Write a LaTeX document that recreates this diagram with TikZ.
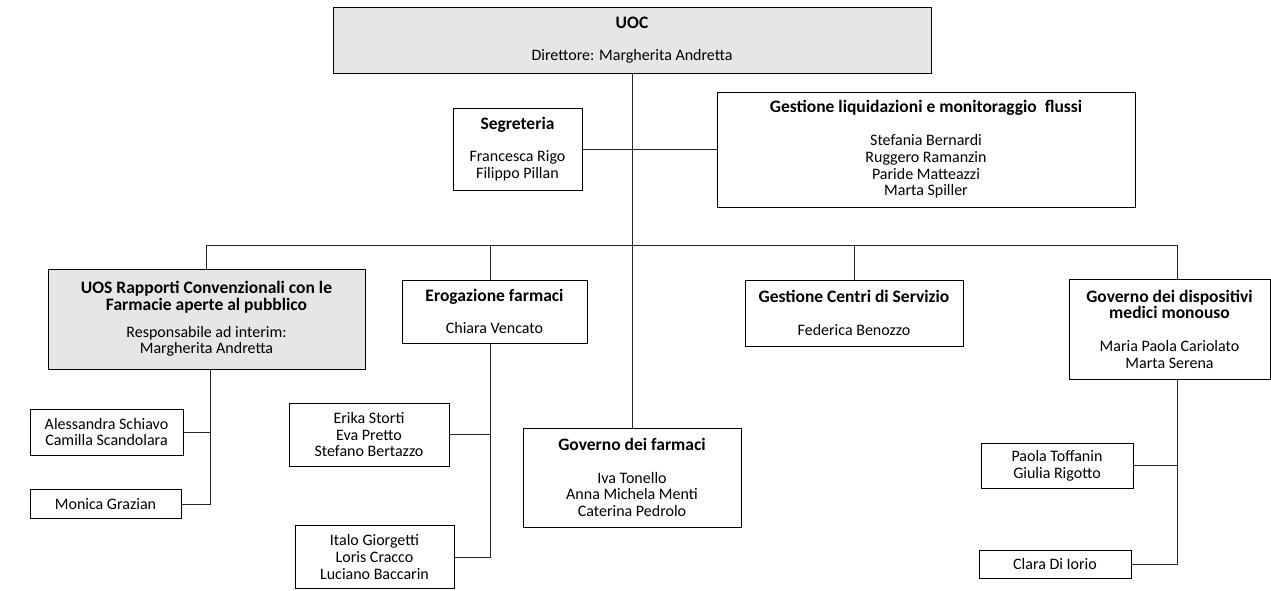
\documentclass[tikz,border=0pt]{standalone}
\usepackage{fontspec}
\setmainfont{Carlito}
\usepackage{tikz}
\usetikzlibrary{positioning,calc}
\definecolor{boxgray}{HTML}{E7E6E6}
\newcommand{\unittitle}[1]{{\fontsize{17.5}{17}\selectfont\bfseries #1}}
\tikzset{
  unit/.style    = { draw=black, line width=1pt, align=center, inner sep=0pt,
                     font=\fontsize{16}{16.7}\selectfont },
  head/.style    = { unit, fill=boxgray },
  link/.style    = { draw=black!85, line width=0.9pt },
}
\begin{document}
\begin{tikzpicture}[x=1pt, y=-1pt]
  \useasboundingbox (0,0) rectangle (1271,590);
  % top level
  \node[head, minimum width=598pt, minimum height=66pt] (uoc) at (632,40)
      {\unittitle{UOC}\\[16pt]Direttore: Margherita Andretta};
  \node[unit, minimum width=129pt, minimum height=82pt] (segr) at (517.5,149)
      {\unittitle{Segreteria}\\[16pt]Francesca Rigo\\Filippo Pillan};
  \node[unit, minimum width=418pt, minimum height=115pt] (liquid) at (926,149.5)
      {\unittitle{Gestione liquidazioni e monitoraggio\ \ flussi}\\[16pt]Stefania Bernardi\\Ruggero Ramanzin\\Paride Matteazzi\\Marta Spiller};
  % second level
  \node[head, minimum width=317pt, minimum height=100pt] (uos) at (206.5,319)
      {\unittitle{UOS Rapporti Convenzionali con le}\\\unittitle{Farmacie aperte al pubblico}\\[10pt]Responsabile ad interim:\\Margherita Andretta};
  \node[unit, minimum width=185pt, minimum height=63pt] (erog) at (494.5,311.5)
      {\unittitle{Erogazione farmaci}\\[16pt]Chiara Vencato};
  \node[unit, minimum width=218pt, minimum height=66pt] (centri) at (854,313)
      {\unittitle{Gestione Centri di Servizio}\\[16pt]Federica Benozzo};
  \node[unit, minimum width=201pt, minimum height=100pt] (dispos) at (1169.5,329)
      {\unittitle{Governo dei dispositivi}\\\unittitle{medici monouso}\\[16pt]Maria Paola Cariolato\\Marta Serena};
  \node[unit, minimum width=218pt, minimum height=99pt] (farmaci) at (632,477.5)
      {\unittitle{Governo dei farmaci}\\[16pt]Iva Tonello\\Anna Michela Menti\\Caterina Pedrolo};
  % staff boxes
  \node[unit, minimum width=153pt, minimum height=46pt] (aless) at (106.5,432)
      {Alessandra Schiavo\\Camilla Scandolara};
  \node[unit, minimum width=151pt, minimum height=29pt] (monica) at (105.5,504)
      {Monica Grazian};
  \node[unit, minimum width=160pt, minimum height=63pt] (erika) at (369,434.5)
      {Erika Storti\\Eva Pretto\\Stefano Bertazzo};
  \node[unit, minimum width=159pt, minimum height=63pt] (italo) at (374.5,557)
      {Italo Giorgetti\\Loris Cracco\\Luciano Baccarin};
  \node[unit, minimum width=152pt, minimum height=45pt] (paola) at (1057,465.5)
      {Paola Toffanin\\Giulia Rigotto};
  \node[unit, minimum width=152pt, minimum height=28pt] (clara) at (1055,564)
      {Clara Di Iorio};

  % bus and taps
  \coordinate (busL) at (206,245);
  \coordinate (busR) at (1177,245);
  \coordinate (tapErog) at (490,245);
  \coordinate (uosT) at (210,0);
  \draw[link] (busL) -- (busR);
  \draw[link] (busL) -- (busL |- uos.north);
  \draw[link] (tapErog) -- (tapErog |- erog.north);
  \draw[link] (centri.north |- busL) -- (centri.north);
  \draw[link] (busR) -- (busR |- dispos.north);
  % spine
  \draw[link] (uoc.south) -- (farmaci.north);
  \draw[link] (segr.east) -- (segr.east -| liquid.west);
  % branches
  \draw[link] (uos.south -| uosT) |- (monica.east);
  \draw[link] (aless.east) -- (aless.east -| uosT);
  \draw[link] (erog.south -| tapErog) |- (italo.east);
  \draw[link] (erika.east) -- (erika.east -| tapErog);
  \draw[link] (dispos.south -| busR) |- (clara.east);
  \draw[link] (paola.east) -- (paola.east -| busR);
\end{tikzpicture}
\end{document}
